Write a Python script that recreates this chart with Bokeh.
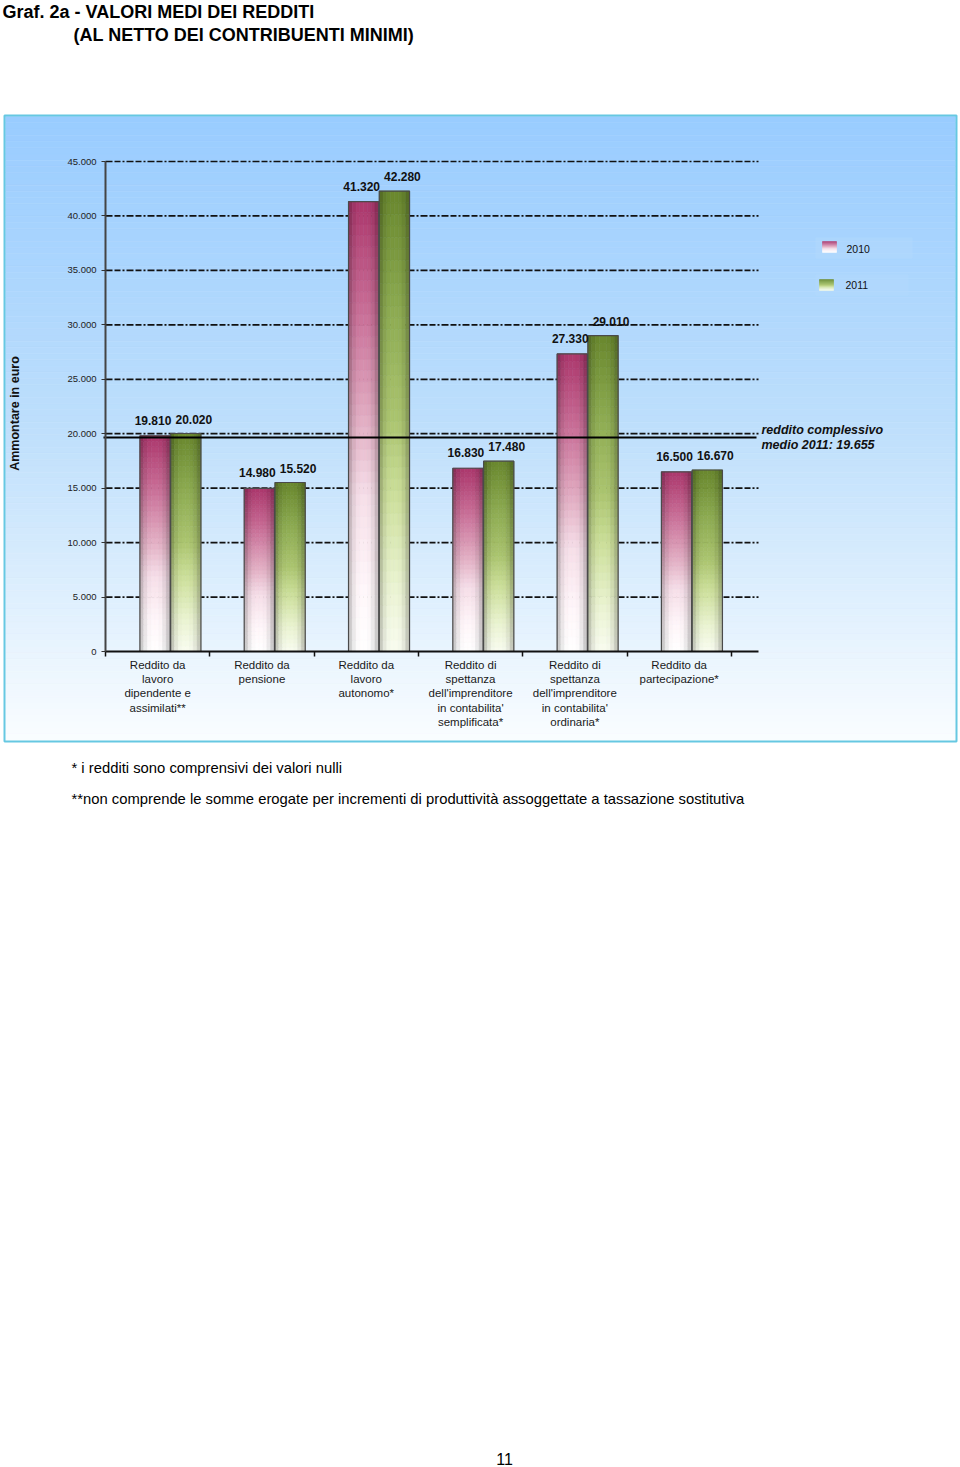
import math
from bokeh.plotting import figure
from bokeh.models import Range1d, LinearAxis, FixedTicker
from bokeh.core.properties import value
from bokeh.embed import file_html
from bokeh.resources import INLINE

# ---------------- data ----------------
categories = [
    "Reddito da\nlavoro\ndipendente e\nassimilati**",
    "Reddito da\npensione",
    "Reddito da\nlavoro\nautonomo*",
    "Reddito di\nspettanza\ndell'imprenditore\nin contabilita'\nsemplificata*",
    "Reddito di\nspettanza\ndell'imprenditore\nin contabilita'\nordinaria*",
    "Reddito da\npartecipazione*",
]
series_names = ["2010", "2011"]
values_2010 = [19810, 14980, 41320, 16830, 27330, 16500]
values_2011 = [20020, 15520, 42280, 17480, 29010, 16670]
avg_2011 = 19655
avg_label = "reddito complessivo\nmedio 2011: 19.655"
y_ticks = [0, 5000, 10000, 15000, 20000, 25000, 30000, 35000, 40000, 45000]
y_tick_labels = ["0", "5.000", "10.000", "15.000", "20.000", "25.000",
                 "30.000", "35.000", "40.000", "45.000"]
title_line1 = "Graf. 2a - VALORI MEDI DEI REDDITI"
title_line2 = "(AL NETTO DEI CONTRIBUENTI MINIMI)"
y_axis_title = "Ammontare in euro"
footnote1 = "* i redditi sono comprensivi dei valori nulli"
footnote2 = "**non comprende le somme erogate per incrementi di produttività assoggettate a tassazione sostitutiva"
page_number = "11"

# ---------------- layout helpers (pixel <-> data) ----------------
W, H = 960, 1467
AX_X = 105.0          # pixel x of category axis origin
CAT_PX = 104.3        # pixels per category
Y0_PX = 651.0         # pixel y of value 0
YTOP_PX = 161.0       # pixel y of value 45000
YMAX = 45000.0
SY = (Y0_PX - YTOP_PX) / YMAX


def dx(px):
    return (px - AX_X) / CAT_PX


def dy(py):
    return (Y0_PX - py) / SY


X_END = dx(758)
FONT = value("Liberation Sans")

p = figure(width=W, height=H, x_range=Range1d(dx(0), dx(W)), y_range=Range1d(dy(H), dy(0)),
           output_backend="svg", toolbar_location=None, min_border=0,
           x_axis_type=None, y_axis_type=None, title=None)
p.outline_line_color = None
p.background_fill_color = "white"
p.border_fill_color = "white"


def lerp(c1, c2, t):
    return tuple(c1[k] + (c2[k] - c1[k]) * t for k in range(3))


def hexc(c):
    return "#%02x%02x%02x" % tuple(max(0, min(255, int(round(v)))) for v in c)


def grad(stops, t):
    for k in range(len(stops) - 1):
        t0, c0 = stops[k]
        t1, c1 = stops[k + 1]
        if t <= t1:
            return lerp(c0, c1, (t - t0) / (t1 - t0) if t1 > t0 else 0)
    return stops[-1][1]


# ---------------- background box gradient ----------------
bg_stops = [(0.0, (153, 204, 255)), (0.5, (190, 223, 252)), (1.0, (250, 253, 255))]
NB = 100
top_px, bot_px = 116.0, 740.0
bl, br, bb, bt, bc = [], [], [], [], []
for k in range(NB):
    y1 = top_px + (bot_px - top_px) * k / NB
    y2 = top_px + (bot_px - top_px) * (k + 1) / NB
    bl.append(dx(5)); br.append(dx(955)); bt.append(dy(y1)); bb.append(dy(y2))
    bc.append(hexc(grad(bg_stops, (k + 0.5) / NB)))
p.quad(left=bl, right=br, bottom=bb, top=bt, fill_color=bc, line_color=bc, line_width=0.6)
p.quad(left=[dx(4)], right=[dx(956)], bottom=[dy(741)], top=[dy(115)],
       fill_alpha=0, line_color="#66c8e2", line_width=2)

# ---------------- gridlines ----------------
grid_vals = [v for v in y_ticks if v > 0]
p.segment(x0=[0] * len(grid_vals), x1=[X_END] * len(grid_vals), y0=grid_vals, y1=grid_vals,
          line_color="#111111", line_width=1.7, line_dash="7 2 6 2 2 2")

# ---------------- bars with gradient ----------------
pink_stops = [(0.0, (255, 255, 255)), (0.15, (255, 246, 249)), (0.35, (246, 222, 232)),
              (0.5, (228, 178, 198)), (0.75, (202, 112, 152)), (1.0, (172, 55, 108))]
green_stops = [(0.0, (249, 252, 240)), (0.15, (234, 243, 208)), (0.35, (203, 222, 152)),
               (0.5, (172, 197, 112)), (0.75, (140, 170, 80)), (1.0, (105, 135, 45))]
BAR_W = 0.29
offsets = [0.475, 0.77]
all_stops = [pink_stops, green_stops]
all_values = [values_2010, values_2011]
NR, NC = 40, 8
gl, gr, gb, gt, gc = [], [], [], [], []
for s in range(2):
    for i, v in enumerate(all_values[s]):
        xc = i + offsets[s]
        x_left = xc - BAR_W / 2
        for r in range(NR):
            base = grad(all_stops[s], (r + 0.5) / NR)
            for c in range(NC):
                u = (c + 0.5) / NC
                f = 0.6 + 0.42 * (math.sin(math.pi * u) ** 0.45)
                f = min(f, 1.0)
                col = tuple(base[k] * f for k in range(3))
                gl.append(x_left + BAR_W * c / NC)
                gr.append(x_left + BAR_W * (c + 1) / NC)
                gb.append(v * r / NR)
                gt.append(v * (r + 1) / NR)
                gc.append(hexc(col))
p.quad(left=gl, right=gr, bottom=gb, top=gt, fill_color=gc, line_color=gc, line_width=0.6)

for s in range(2):
    xs = [i + offsets[s] for i in range(len(categories))]
    p.vbar(x=xs, top=all_values[s], width=BAR_W, bottom=0, fill_alpha=0,
           line_color="#4a4a4a", line_width=1.2)

# ---------------- average line ----------------
p.segment(x0=[dx(103)], x1=[dx(756)], y0=[avg_2011], y1=[avg_2011], line_color="black", line_width=2.2)
p.text(x=[X_END], y=[avg_2011], text=[avg_label], x_offset=3, text_baseline="middle",
       text_align="left", text_font=FONT, text_font_size="12.5px", text_font_style="bold italic",
       text_color="#111111", text_line_height=1.1)

# ---------------- value labels ----------------
def fmt(v):
    return f"{v:,}".replace(",", ".")


p.text(x=[i + offsets[0] for i in range(len(categories))], y=values_2010,
       text=[fmt(v) for v in values_2010], text_align="center", text_baseline="bottom",
       x_offset=-2, y_offset=-11, text_font=FONT, text_font_size="12px", text_font_style="bold",
       text_color="#111111")
p.text(x=[i + offsets[1] for i in range(len(categories))], y=values_2011,
       text=[fmt(v) for v in values_2011], text_align="center", text_baseline="bottom",
       x_offset=8, y_offset=-10, text_font=FONT, text_font_size="12px", text_font_style="bold",
       text_color="#111111")

# ---------------- axes ----------------
yax = LinearAxis(fixed_location=0, bounds=(0, YMAX), ticker=FixedTicker(ticks=y_ticks),
                 major_label_overrides=dict(zip(y_ticks, y_tick_labels)),
                 axis_line_color="#444444", axis_line_width=2,
                 major_tick_out=4, major_tick_in=0, major_tick_line_color="#333333",
                 minor_tick_line_color=None, major_label_standoff=5,
                 major_label_text_font="Liberation Sans", major_label_text_font_size="9.5px",
                 major_label_text_color="#222222")
p.add_layout(yax, "left")

centers = [i + 0.5 for i in range(len(categories))]
bounds = [float(i) for i in range(len(categories) + 1)]
xax = LinearAxis(fixed_location=0, bounds=(0, X_END),
                 ticker=FixedTicker(ticks=centers, minor_ticks=bounds),
                 major_label_overrides=dict(zip(centers, categories)),
                 axis_line_color="#111111", axis_line_width=2,
                 major_tick_line_color=None, minor_tick_out=5, minor_tick_in=0,
                 minor_tick_line_color="#111111", minor_tick_line_width=1.5,
                 major_label_standoff=1, major_label_text_font="Liberation Sans",
                 major_label_text_font_size="11.5px", major_label_text_color="#1a1a1a",
                 major_label_text_line_height=1.2)
p.add_layout(xax, "below")

# ---------------- legend (manual) ----------------
leg_boxes = [(815, 912, 237, 258), (815, 908, 274, 295)]
for (x1, x2, y1, y2) in leg_boxes:
    p.quad(left=[dx(x1)], right=[dx(x2)], bottom=[dy(y2)], top=[dy(y1)],
           fill_color="#b4dafd", fill_alpha=0.45, line_color=None)
sw = [(822, 836, 241, 252), (819, 833, 279, 290)]
ll, lr, lb, lt, lc = [], [], [], [], []
for s in range(2):
    x1, x2, y1, y2 = sw[s]
    n = 12
    for k in range(n):
        ya = y1 + (y2 - y1) * k / n
        yb = y1 + (y2 - y1) * (k + 1) / n
        ll.append(dx(x1)); lr.append(dx(x2)); lt.append(dy(ya)); lb.append(dy(yb))
        lc.append(hexc(grad(all_stops[s], 1 - (k + 0.5) / n)))
p.quad(left=ll, right=lr, bottom=lb, top=lt, fill_color=lc, line_color=lc, line_width=0.5)
p.text(x=[dx(846), dx(845)], y=[dy(248), dy(284)], text=series_names, text_baseline="middle",
       text_font=FONT, text_font_size="10.5px", text_color="#111111")

# ---------------- texts ----------------
p.text(x=[dx(14)], y=[dy(413)], text=[y_axis_title], angle=math.pi / 2, text_align="center",
       text_baseline="middle", text_font=FONT, text_font_size="12.5px", text_font_style="bold",
       text_color="#111111")
p.text(x=[dx(2), dx(73)], y=[dy(11), dy(34)], text=[title_line1, title_line2],
       text_baseline="middle", text_font=FONT, text_font_size="18px", text_font_style="bold",
       text_color="#000000")
p.text(x=[dx(71), dx(71)], y=[dy(767), dy(798)], text=[footnote1, footnote2],
       text_baseline="middle", text_font=FONT, text_font_size="14.8px", text_color="#000000")
p.text(x=[dx(504)], y=[dy(1458)], text=[page_number], text_align="center", text_baseline="middle",
       text_font=FONT, text_font_size="16px", text_color="#000000")

open("out.html", "w").write(file_html(p, INLINE))
